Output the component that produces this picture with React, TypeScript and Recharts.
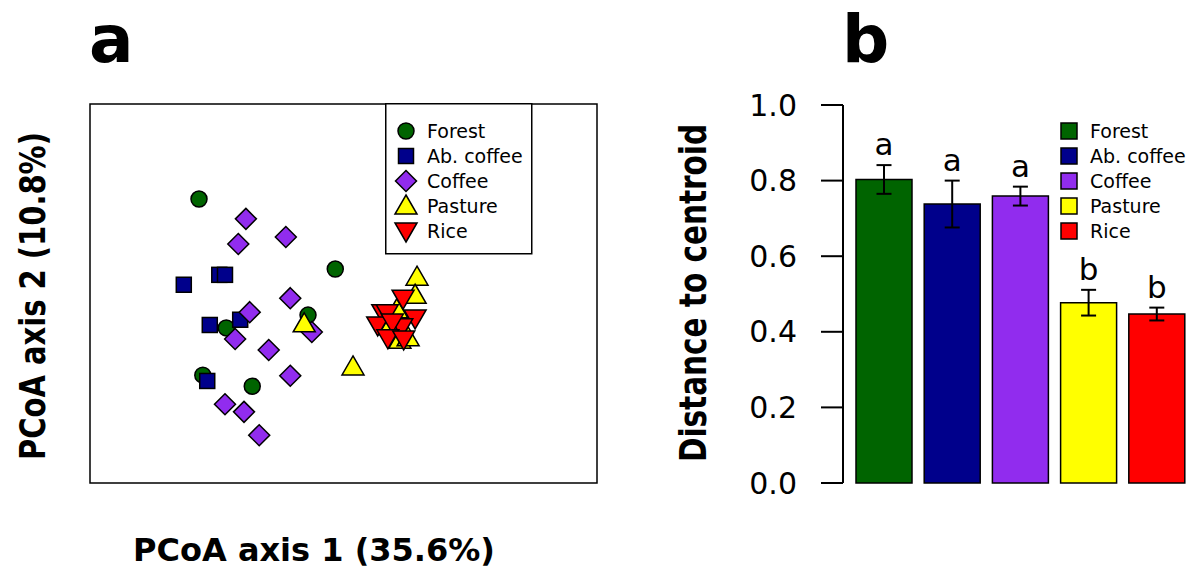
import React from "react"
import {
  ScatterChart, Scatter, BarChart, Bar, Cell, XAxis, YAxis, ErrorBar,
  LabelList, Legend, ReferenceArea,
} from "recharts"

// ---- data ----
const groups = ["Forest", "Ab. coffee", "Coffee", "Pasture", "Rice"]
const groupColors = ["#006400", "#00008B", "#912CEE", "#FFFF00", "#FF0000"]

// PCoA scores (axis 1, axis 2)
const forestPts = [
  [-0.178, 0.187], [0.037, 0.067], [-0.006, -0.012], [-0.135, -0.034], [-0.172, -0.115], [-0.094, -0.134],
]
const abCoffeePts = [
  [-0.202, 0.04], [-0.146, 0.057], [-0.137, 0.057], [-0.161, -0.029], [-0.113, -0.02], [-0.165, -0.125],
]
const coffeePts = [
  [-0.104, 0.153], [-0.041, 0.122], [-0.116, 0.11], [-0.034, 0.017], [-0.098, -0.007], [-0.121, -0.053],
  [-0.068, -0.072], [0.0, -0.041], [-0.034, -0.116], [-0.137, -0.165], [-0.107, -0.178], [-0.083, -0.218],
]
const pasturePts = [
  [0.166, 0.053], [0.163, 0.022], [0.134, -0.003], [0.123, -0.032], [0.139, -0.055], [0.152, -0.051],
  [-0.012, -0.027], [0.065, -0.101],
]
const ricePts = [
  [0.144, 0.017], [0.112, -0.008], [0.119, -0.008], [0.163, -0.017], [0.104, -0.029], [0.142, -0.032],
  [0.127, -0.024], [0.12, -0.051], [0.145, -0.053],
]

// distance to centroid (mean, se) and letters
const distMeans = [0.803, 0.738, 0.759, 0.477, 0.447]
const distErrs = [0.038, 0.062, 0.025, 0.034, 0.017]
const distLetters = ["a", "a", "a", "b", "b"]
const distTicks = [0, 0.2, 0.4, 0.6, 0.8, 1.0]

const toPts = (pts: number[][]) => pts.map(([x, y]) => ({ x, y }))
const barData = groups.map((name, i) => ({
  name, value: distMeans[i], err: distErrs[i], letter: distLetters[i],
}))

const FONT = "DejaVu Sans"

// ---- markers ----
const Circle = (p: any) => (
  <circle cx={p.cx} cy={p.cy} r={8} fill={groupColors[0]} stroke="#000" strokeWidth={1.5} />
)
const Square = (p: any) => (
  <rect x={p.cx - 7.5} y={p.cy - 7.5} width={15} height={15} fill={groupColors[1]} stroke="#000" strokeWidth={1.5} />
)
const Diamond = (p: any) => (
  <polygon
    points={`${p.cx},${p.cy - 10.5} ${p.cx + 10.5},${p.cy} ${p.cx},${p.cy + 10.5} ${p.cx - 10.5},${p.cy}`}
    fill={groupColors[2]} stroke="#000" strokeWidth={1.5}
  />
)
const TriUp = (p: any) => (
  <polygon
    points={`${p.cx},${p.cy - 11} ${p.cx + 11},${p.cy + 8} ${p.cx - 11},${p.cy + 8}`}
    fill={groupColors[3]} stroke="#000" strokeWidth={1.5}
  />
)
const TriDown = (p: any) => (
  <polygon
    points={`${p.cx},${p.cy + 11} ${p.cx + 11},${p.cy - 8} ${p.cx - 11},${p.cy - 8}`}
    fill={groupColors[4]} stroke="#000" strokeWidth={1.5}
  />
)
const markers = [Circle, Square, Diamond, TriUp, TriDown]

const ScatterLegend = () => (
  <svg width={148} height={152}>
    <rect x={0.75} y={0.75} width={146} height={150} fill="#fff" stroke="#000" strokeWidth={1.5} />
    {groups.map((g, i) => {
      const cy = 28 + i * 25
      const M = markers[i]
      return (
        <g key={g}>
          <M cx={21} cy={cy} />
          <text x={42} y={cy} dy="0.35em" fontSize={19} fontFamily={FONT} fill="#000">{g}</text>
        </g>
      )
    })}
  </svg>
)

const BarLegend = () => (
  <svg width={140} height={135}>
    {groups.map((g, i) => {
      const cy = 21 + i * 25
      return (
        <g key={g}>
          <rect x={11} y={cy - 8} width={16} height={16} fill={groupColors[i]} stroke="#000" strokeWidth={1.5} />
          <text x={40} y={cy} dy="0.35em" fontSize={19} fontFamily={FONT} fill="#000">{g}</text>
        </g>
      )
    })}
  </svg>
)

const LetterLabel = (p: any) => {
  const { x, y, width, height, index, value } = p
  const perUnit = height / distMeans[index]
  const top = y - distErrs[index] * perUnit
  return (
    <text x={x + width / 2} y={top - 10} textAnchor="middle" fontSize={31} fontFamily={FONT} fill="#000">
      {value}
    </text>
  )
}

export default function App() {
  return (
    <div style={{ position: "absolute", left: 0, top: 0, width: 1193, height: 572, background: "#fff", fontFamily: FONT }}>
      <svg width={1193} height={572} style={{ position: "absolute", left: 0, top: 0 }}>
        <text x={89} y={62} fontSize={66} fontWeight="bold" fontFamily={FONT}>a</text>
        <text x={842} y={62} fontSize={66} fontWeight="bold" fontFamily={FONT}>b</text>
        <text x={314} y={561} textAnchor="middle" fontSize={32} fontWeight="bold" fontFamily={FONT}>
          PCoA axis 1 (35.6%)
        </text>
        <text transform="translate(45,296) scale(1.25,1) rotate(-90)" textAnchor="middle" fontSize={29} fontWeight="bold" fontFamily={FONT}>
          PCoA axis 2 (10.8%)
        </text>
        <text transform="translate(706,293) scale(1.25,1) rotate(-90)" textAnchor="middle" fontSize={29.5} fontWeight="bold" fontFamily={FONT}>
          Distance to centroid
        </text>
      </svg>

      <div style={{ position: "absolute", left: 0, top: 0 }}>
        <ScatterChart width={620} height={572} margin={{ top: 104, left: 90, right: 23, bottom: 89 }}>
          <XAxis type="number" dataKey="x" domain={[-0.35, 0.45]} hide />
          <YAxis type="number" dataKey="y" domain={[-0.3, 0.35]} hide />
          <ReferenceArea x1={-0.35} x2={0.45} y1={-0.3} y2={0.35} fill="none" stroke="#000" strokeWidth={1.5} ifOverflow="visible" />
          <Scatter name="Forest" data={toPts(forestPts)} shape={Circle} isAnimationActive={false} />
          <Scatter name="Ab. coffee" data={toPts(abCoffeePts)} shape={Square} isAnimationActive={false} />
          <Scatter name="Coffee" data={toPts(coffeePts)} shape={Diamond} isAnimationActive={false} />
          <Scatter name="Pasture" data={toPts(pasturePts)} shape={TriUp} isAnimationActive={false} />
          <Scatter name="Rice" data={toPts(ricePts)} shape={TriDown} isAnimationActive={false} />
          <Legend
            layout="vertical" align="center" verticalAlign="middle"
            content={ScatterLegend}
            wrapperStyle={{ left: 385, top: 103, width: 148, height: 152 }}
          />
        </ScatterChart>
      </div>

      <div style={{ position: "absolute", left: 640, top: 0 }}>
        <BarChart width={553} height={572} data={barData} margin={{ top: 105, left: 0, right: 0, bottom: 89 }}>
          <XAxis dataKey="name" hide padding={{ left: 7, right: 2 }} />
          <YAxis
            width={203} domain={[0, 1]} ticks={distTicks} interval={0}
            tickFormatter={(v: number) => v.toFixed(1)}
            tick={{ fontSize: 30, fill: "#000", fontFamily: FONT }}
            tickSize={22} tickMargin={24}
            axisLine={{ stroke: "#000", strokeWidth: 2 }}
            tickLine={{ stroke: "#000", strokeWidth: 2 }}
          />
          <Bar dataKey="value" barSize={56} stroke="#000" strokeWidth={1.5} isAnimationActive={false}>
            {barData.map((d, i) => <Cell key={d.name} fill={groupColors[i]} />)}
            <ErrorBar dataKey="err" width={7.5} stroke="#000" strokeWidth={2} />
            <LabelList dataKey="letter" content={LetterLabel} />
          </Bar>
          <Legend
            layout="vertical" align="center" verticalAlign="middle"
            content={BarLegend}
            wrapperStyle={{ left: 410, top: 110, width: 140, height: 135 }}
          />
        </BarChart>
      </div>
    </div>
  )
}
